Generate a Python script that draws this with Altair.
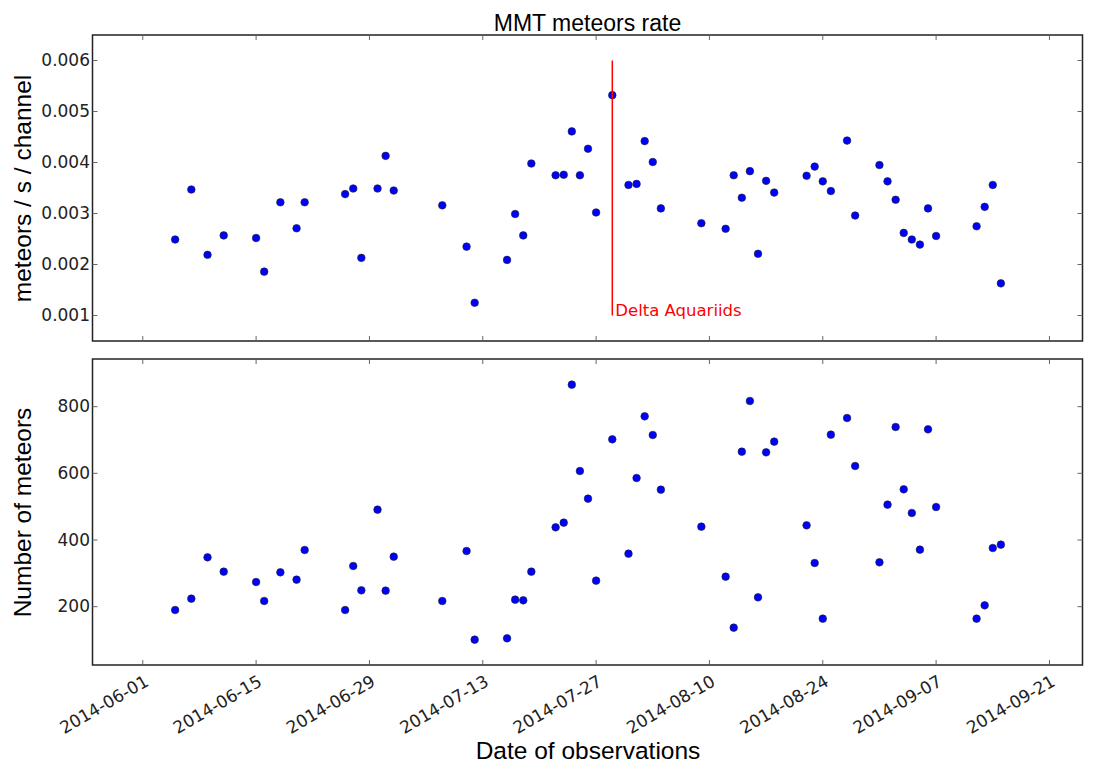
import altair as alt
import pandas as pd

# ---------------- data ----------------
obs_dates = [
    "2014-06-05", "2014-06-07", "2014-06-09", "2014-06-11", "2014-06-15", "2014-06-16",
    "2014-06-18", "2014-06-20", "2014-06-21", "2014-06-26", "2014-06-27", "2014-06-28",
    "2014-06-30", "2014-07-01", "2014-07-02", "2014-07-08", "2014-07-11", "2014-07-12",
    "2014-07-16", "2014-07-17", "2014-07-18", "2014-07-19", "2014-07-22", "2014-07-23",
    "2014-07-24", "2014-07-25", "2014-07-26", "2014-07-27", "2014-07-29", "2014-07-31",
    "2014-08-01", "2014-08-02", "2014-08-03", "2014-08-04", "2014-08-09", "2014-08-12",
    "2014-08-13", "2014-08-14", "2014-08-15", "2014-08-16", "2014-08-17", "2014-08-18",
    "2014-08-22", "2014-08-23", "2014-08-24", "2014-08-25", "2014-08-27", "2014-08-28",
    "2014-08-31", "2014-09-01", "2014-09-02", "2014-09-03", "2014-09-04", "2014-09-05",
    "2014-09-06", "2014-09-07", "2014-09-12", "2014-09-13", "2014-09-14", "2014-09-15",
]

rate = [
    0.00249, 0.00347, 0.00219, 0.00257, 0.00252, 0.00186,
    0.00322, 0.00271, 0.00322, 0.00338, 0.00349, 0.00213,
    0.00349, 0.00413, 0.00345, 0.00316, 0.00235, 0.00125,
    0.00209, 0.00299, 0.00257, 0.00398, 0.00375, 0.00376,
    0.00461, 0.00375, 0.00427, 0.00302, 0.00532, 0.00356,
    0.00358, 0.00442, 0.00401, 0.00310, 0.00281, 0.00270,
    0.00375, 0.00331, 0.00383, 0.00221, 0.00364, 0.00341,
    0.00374, 0.00392, 0.00363, 0.00344, 0.00443, 0.00296,
    0.00395, 0.00363, 0.00327, 0.00262, 0.00249, 0.00239,
    0.00310, 0.00256, 0.00275, 0.00313, 0.00356, 0.00163,
]

counts = [
    190, 224, 348, 305, 274, 217, 303, 281, 370, 190,
    322, 249, 491, 248, 350, 217, 367, 101, 105, 221,
    219, 305, 438, 452, 866, 607, 524, 278, 702, 359,
    586, 771, 715, 551, 440, 290, 137, 665, 817, 228,
    663, 695, 444, 331, 164, 716, 766, 622, 333, 506,
    739, 552, 481, 371, 732, 499, 164, 204, 376, 386,
]

tick_dates = ["2014-06-01", "2014-06-15", "2014-06-29", "2014-07-13", "2014-07-27",
              "2014-08-10", "2014-08-24", "2014-09-07", "2014-09-21"]
rate_ticks = [0.001, 0.002, 0.003, 0.004, 0.005, 0.006]
count_ticks = [200, 400, 600, 800]

shower_date = ["2014-07-29"]
shower_lo = [0.001]
shower_hi = [0.006]
shower_name = ["Delta Aquariids"]

# ---------------- styling ----------------
W, H = 990, 306
TICK_FONT = "DejaVu Sans"
TITLE_FONT = "Liberation Sans"
TICK_COLOR = "#666666"


def dt(s, h=0):
    y, m, d = (int(v) for v in s.split("-"))
    return alt.DateTime(year=y, month=m, date=d, hours=h, utc=True)


xscale = alt.Scale(type="utc", domain=[dt("2014-05-25", 19), dt("2014-09-25", 2)])
yscale_top = alt.Scale(domain=[0.0005, 0.0065], nice=False, zero=False)
yscale_bot = alt.Scale(domain=[25, 943], nice=False, zero=False)

df = pd.DataFrame({"date": obs_dates, "rate": rate, "count": counts})
tick_df = pd.DataFrame({"date": tick_dates})
rate_tick_df = pd.DataFrame({"rate": rate_ticks})
count_tick_df = pd.DataFrame({"count": count_ticks})
shower_df = pd.DataFrame({"date": shower_date, "rate": shower_lo, "hi": shower_hi,
                          "name": shower_name})


def y_axis(values, fmt, title):
    return alt.Axis(values=values, format=fmt, title=title,
                    titleFont=TITLE_FONT, titleFontSize=24.5, titleFontWeight="normal",
                    titleColor="black", titleX=-62, titleBaseline="alphabetic",
                    labelFont=TICK_FONT, labelFontSize=17, labelColor="#222222",
                    labelPadding=3, tickSize=0, domain=False, grid=False)


x_axis_bottom = alt.Axis(values=[dt(s) for s in tick_dates], format="%Y-%m-%d",
                         labelAngle=-30, labelAlign="right", labelBaseline="top",
                         labelPadding=8, tickSize=0, domain=False, grid=False,
                         labelFont=TICK_FONT, labelFontSize=17, labelColor="#222222",
                         labelOverlap=False, labelFlush=False,
                         title="Date of observations", titleFont=TITLE_FONT,
                         titleFontSize=24.5, titleFontWeight="normal", titleColor="black",
                         titleY=93, titleBaseline="alphabetic")

ax_top_y = y_axis(rate_ticks, ".3f", "meteors / s / channel")
ax_bot_y = y_axis(count_ticks, "d", "Number of meteors")


def inside_ticks(xenc, yfield, yscale, yaxis, tick_table):
    xt_top = alt.Chart(tick_df).mark_rule(color=TICK_COLOR, strokeWidth=1).encode(
        x=xenc, y=alt.value(0), y2=alt.value(5))
    xt_bot = alt.Chart(tick_df).mark_rule(color=TICK_COLOR, strokeWidth=1).encode(
        x=xenc, y=alt.value(H - 5), y2=alt.value(H))
    yt_l = alt.Chart(tick_table).mark_rule(color=TICK_COLOR, strokeWidth=1).encode(
        y=alt.Y(f"{yfield}:Q", scale=yscale, axis=yaxis), x=alt.value(0), x2=alt.value(5))
    yt_r = alt.Chart(tick_table).mark_rule(color=TICK_COLOR, strokeWidth=1).encode(
        y=alt.Y(f"{yfield}:Q", scale=yscale, axis=yaxis), x=alt.value(W - 5), x2=alt.value(W))
    return [xt_top, xt_bot, yt_l, yt_r]


point_style = dict(color="#0000ff", stroke="#222222", strokeWidth=0.6, opacity=1, size=58)

# ---------------- top panel ----------------
x_top = alt.X("date:T", scale=xscale, axis=None)
y_top = alt.Y("rate:Q", scale=yscale_top, axis=ax_top_y)

top_pts = alt.Chart(df).mark_circle(**point_style).encode(x=x_top, y=y_top)
shower_rule = alt.Chart(shower_df).mark_rule(color="#ff0000", strokeWidth=1.5).encode(
    x=x_top, y=y_top, y2="hi:Q")
shower_text = alt.Chart(shower_df).mark_text(
    align="left", baseline="alphabetic", dx=3, color="#ff0000",
    font=TICK_FONT, fontSize=16.5).encode(x=x_top, y=y_top, text="name:N")
top = alt.layer(top_pts, shower_rule, shower_text,
                *inside_ticks(x_top, "rate", yscale_top, ax_top_y, rate_tick_df)).properties(
    width=W, height=H,
    title=alt.Title("MMT meteors rate", font=TITLE_FONT, fontSize=23,
                    fontWeight="normal", color="black", anchor="middle",
                    frame="group", offset=-19, baseline="alphabetic"),
)

# ---------------- bottom panel ----------------
x_bot = alt.X("date:T", scale=xscale, axis=x_axis_bottom)
y_bot = alt.Y("count:Q", scale=yscale_bot, axis=ax_bot_y)
bot_pts = alt.Chart(df).mark_circle(**point_style).encode(x=x_bot, y=y_bot)
bottom = alt.layer(bot_pts,
                   *inside_ticks(x_bot, "count", yscale_bot, ax_bot_y, count_tick_df)).properties(
    width=W, height=H)

chart = alt.vconcat(top, bottom, spacing=18, bounds="flush").properties(
    padding={"left": 1.5, "top": 3, "right": 8, "bottom": 0},
    background="white",
).configure_view(stroke="#222222", strokeWidth=1.5)

chart.save("out.html", embed_options={"renderer": "svg", "actions": False})
